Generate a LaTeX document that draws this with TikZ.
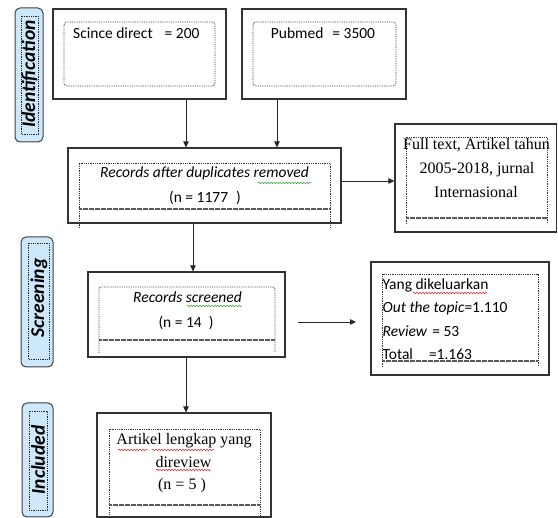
\documentclass[tikz,border=0pt]{standalone}
\usepackage{graphicx}
\usepackage{fontspec}
\setmainfont{Carlito}
\newfontfamily\tnr{Liberation Serif}
\usetikzlibrary{arrows.meta,decorations.pathmorphing}
\definecolor{pillblue}{HTML}{CDE8FA}
\definecolor{sqred}{HTML}{E02828}
\definecolor{sqgreen}{HTML}{3AA63A}
\begin{document}
\begin{tikzpicture}[x=1pt,y=-1pt,
  outer/.style={draw=black!80,line width=1.2pt,inner sep=0pt,fill=white},
  innerbox/.style={draw=black!80,line width=0.8pt,dash pattern=on 0.8pt off 1pt},
  dense/.style={draw=black!65,line width=1.1pt,dash pattern=on 0.6pt off 0.6pt},
  pill/.style={draw=black!75,line width=1pt,fill=pillblue,rounded corners=5pt,inner sep=0pt},
  pillin/.style={draw=black!85,line width=0.8pt,dash pattern=on 0.8pt off 1pt},
  arr/.style={-{Triangle[length=6pt,width=5.5pt]},line width=0.8pt,draw=black!85},
  sq/.style={decorate,decoration={snake,segment length=3pt,amplitude=0.8pt},line width=0.5pt},
  cal/.style={font=\fontsize{15.5}{18}\selectfont,inner sep=0pt},
  calit/.style={font=\fontsize{15.5}{18}\selectfont\itshape,inner sep=0pt},
  tim/.style={font=\fontsize{16}{18}\selectfont\tnr,inner sep=0pt},
  side/.style={font=\fontsize{19.5}{21}\selectfont\bfseries\itshape,rotate=90,inner sep=0pt}
]
\useasboundingbox (0,0) rectangle (558,518);
\clip (0,0) rectangle (558,518);

% side pills
\node[pill,minimum width=28pt,minimum height=134pt] (pid) at (29,75) {};
\draw[pillin] (21,16) rectangle (38,134);
\node[side] (lid) at (29.5,74) {Identification};
\node[pill,minimum width=32pt,minimum height=130pt] (psc) at (37,302) {};
\draw[pillin] (28,243) rectangle (49,359);
\node[side] (lsc) at (39,298) {Screening};
\node[pill,minimum width=31pt,minimum height=114pt] (pin) at (37.5,460) {};
\draw[pillin] (29,411) rectangle (47,510);
\node[side] (lin) at (38,460) {Included};

% boxes
\node[outer,minimum width=173pt,minimum height=90pt] (b1) at (139.5,54) {};
\draw[innerbox,rounded corners=3pt] (64,22) rectangle (215,86);
\node[cal,anchor=west] (t1) at (73,33) {Scince direct\hspace{12pt}= 200};

\node[outer,minimum width=164pt,minimum height=90pt] (b2) at (324,54) {};
\draw[innerbox,rounded corners=3pt] (253,22) rectangle (396,86);
\node[cal] (t2) at (323,33) {Pubmed\hspace{9pt}= 3500};

\node[outer,minimum width=273pt,minimum height=75pt] (b3) at (204.5,185.5) {};
\draw[innerbox] (79,228) -- (79,163) -- (330,163) -- (330,228);
\draw[dense] (79,209) -- (330,209);
\node[calit] (t3a) at (204.5,173) {Records after duplicates removed};
\node[cal] (t3b) at (205,198) {(n = 1177\hspace{8pt})};
\draw[sq,sqgreen] (258,183) -- (312,183);

\node[outer,minimum width=161.5pt,minimum height=108pt] (b4) at (475.75,178) {};
\draw[innerbox] (406,224) -- (406,137) -- (547,137) -- (547,224);
\draw[dense] (406,218) -- (547,218);
\node[tim] (t4a) at (476.5,145) {Full text, Artikel tahun};
\node[tim] (t4b) at (477,170) {2005-2018, jurnal};
\node[tim] (t4c) at (476,192) {Internasional};

\node[outer,minimum width=197pt,minimum height=85pt] (b5) at (186.5,314.5) {};
\draw[innerbox,rounded corners=2pt] (99,353) -- (99,287) -- (275,287) -- (275,353);
\draw[dense] (99,340) -- (275,340);
\node[calit] (t5a) at (187.5,297) {Records screened};
\node[cal] (t5b) at (186,323) {(n = 14\hspace{7pt})};
\draw[sq,sqgreen] (187,306) -- (242,306);

\node[outer,minimum width=178pt,minimum height=113pt] (b6) at (460,318.5) {};
\draw[innerbox] (382,367) -- (382,274) -- (538,274) -- (538,367);
\draw[dense] (382,361) -- (538,361);
\node[cal,anchor=west] (t6a) at (382.5,285) {Yang dikeluarkan};
\node[cal,anchor=west] (t6b) at (382.5,308) {\textit{Out the topic}=1.110};
\node[cal,anchor=west] (t6c) at (382.5,331) {\textit{Review}\hspace{5pt}= 53};
\node[cal,anchor=west] (t6d) at (382.5,354) {Total\hspace{16pt}=1.163};
\draw[sq,sqred] (413,293) -- (487,293);

\node[outer,minimum width=174pt,minimum height=104pt] (b7) at (184,465) {};
\draw[innerbox] (109,520) -- (109,429) -- (260,429) -- (260,520);
\draw[dense] (109,505) -- (260,505);
\node[tim] (t7a) at (184,441) {Artikel lengkap yang};
\node[tim] (t7b) at (183.5,462) {direview};
\node[tim] (t7c) at (182,486) {(n = 5 )};
\draw[sq,sqred] (118,450) -- (148,450);
\draw[sq,sqred] (152,450) -- (214,450);
\draw[sq,sqred] (156,470) -- (211,470);

% connectors
\draw[arr] ([xshift=46.5pt]b1.south) -- ([xshift=46.5pt]b1.south |- b3.north);
\draw[arr] ([xshift=-47pt]b2.south) -- ([xshift=-47pt]b2.south |- b3.north);
\draw[arr] (b3.east |- 0,181) -- (b4.west |- 0,181);
\draw[arr] ([xshift=-11.5pt]b3.south) -- ([xshift=-11.5pt]b3.south |- b5.north);
\draw[arr] ([xshift=-0.5pt]b5.south) -- ([xshift=-0.5pt]b5.south |- b7.north);
\coordinate (fa) at (298,322);
\coordinate (fb) at (356,322);
\draw[arr] (fa) -- (fb);
\end{tikzpicture}
\end{document}
